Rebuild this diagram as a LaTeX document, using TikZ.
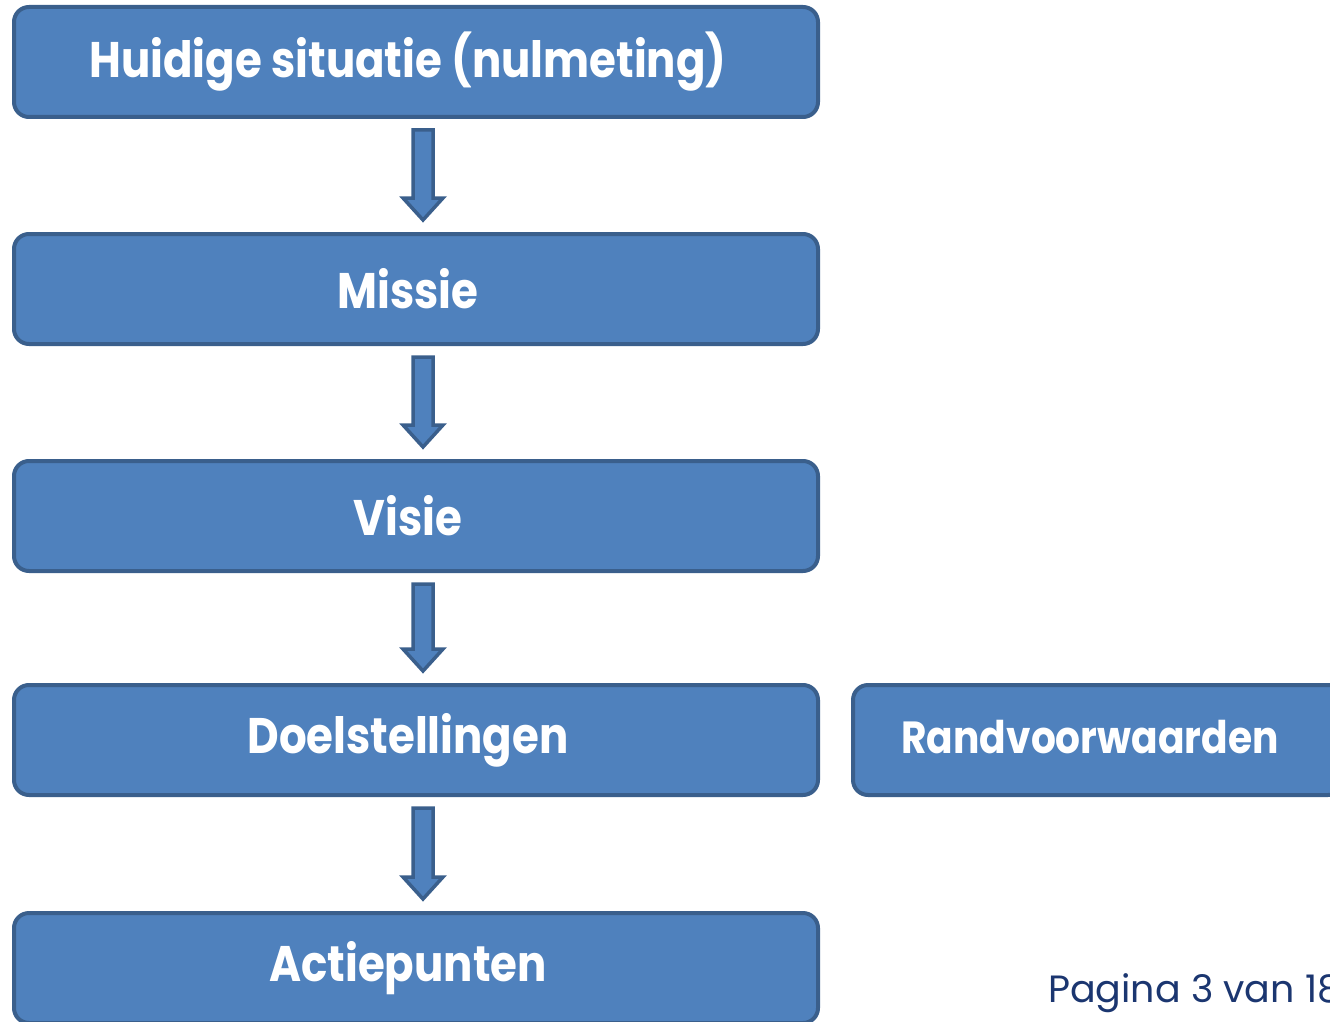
\documentclass[tikz,border=0pt]{standalone}
\usepackage{fontspec}
\usetikzlibrary{calc}
\newfontfamily\boxfont{Poppins}[FakeStretch=0.87]
\newfontfamily\pagefont{Poppins}
\definecolor{boxfill}{HTML}{4F81BD}
\definecolor{boxline}{HTML}{3A5F8C}
\definecolor{pagetext}{HTML}{1B3670}
\tikzset{
  stepbox/.style={draw=boxline, fill=boxfill, line width=4pt, rounded corners=15pt,
    minimum width=804pt, minimum height=110pt, inner sep=0pt,
    text=white, font=\boxfont\bfseries\fontsize{50}{60}\selectfont},
  blockarrow/.style={draw=boxline, fill=boxfill, line width=3.5pt, line join=miter}
}
\newcommand{\blkarrow}[2]{%
  \draw[blockarrow]
    ($(#1.south)+(-3,-11)$) -- ($(#1.south)+(17,-11)$) --
    ($(#2.north)+(17,34)$) -- ($(#2.north)+(27,34)$) --
    ($(#2.north)+(7,12)$) -- ($(#2.north)+(-13,34)$) --
    ($(#2.north)+(-3,34)$) -- cycle;}
\newcommand{\lft}[1]{\hspace*{-16pt}#1}
\begin{document}
\begin{tikzpicture}[x=1pt,y=1pt]
\useasboundingbox (0,0) rectangle (1330,-1022);
\clip (0,0) rectangle (1330,-1022);
\node[stepbox] (b1) at (416,-62) {\lft{Huidige situatie (nulmeting)}};
\node[stepbox] (b2) at (416,-289) {\lft{Missie}};
\node[stepbox] (b3) at (416,-516) {\lft{Visie}};
\node[stepbox] (b4) at (416,-740) {\lft{Doelstellingen}};
\node[stepbox] (b5) at (416,-968) {\lft{Actiepunten}};
\node[stepbox, minimum width=490pt, font=\boxfont\bfseries\fontsize{45}{52}\selectfont] (rv) at (1098,-740) {\lft{\raisebox{6pt}{Randvoorwaarden}}};
\blkarrow{b1}{b2}
\blkarrow{b2}{b3}
\blkarrow{b3}{b4}
\blkarrow{b4}{b5}
\node[anchor=base west, inner sep=0pt, text=pagetext, font=\pagefont\fontsize{38}{44}\selectfont] (pg) at (1048,-1002) {Pagina 3 van 18};
\end{tikzpicture}
\end{document}
